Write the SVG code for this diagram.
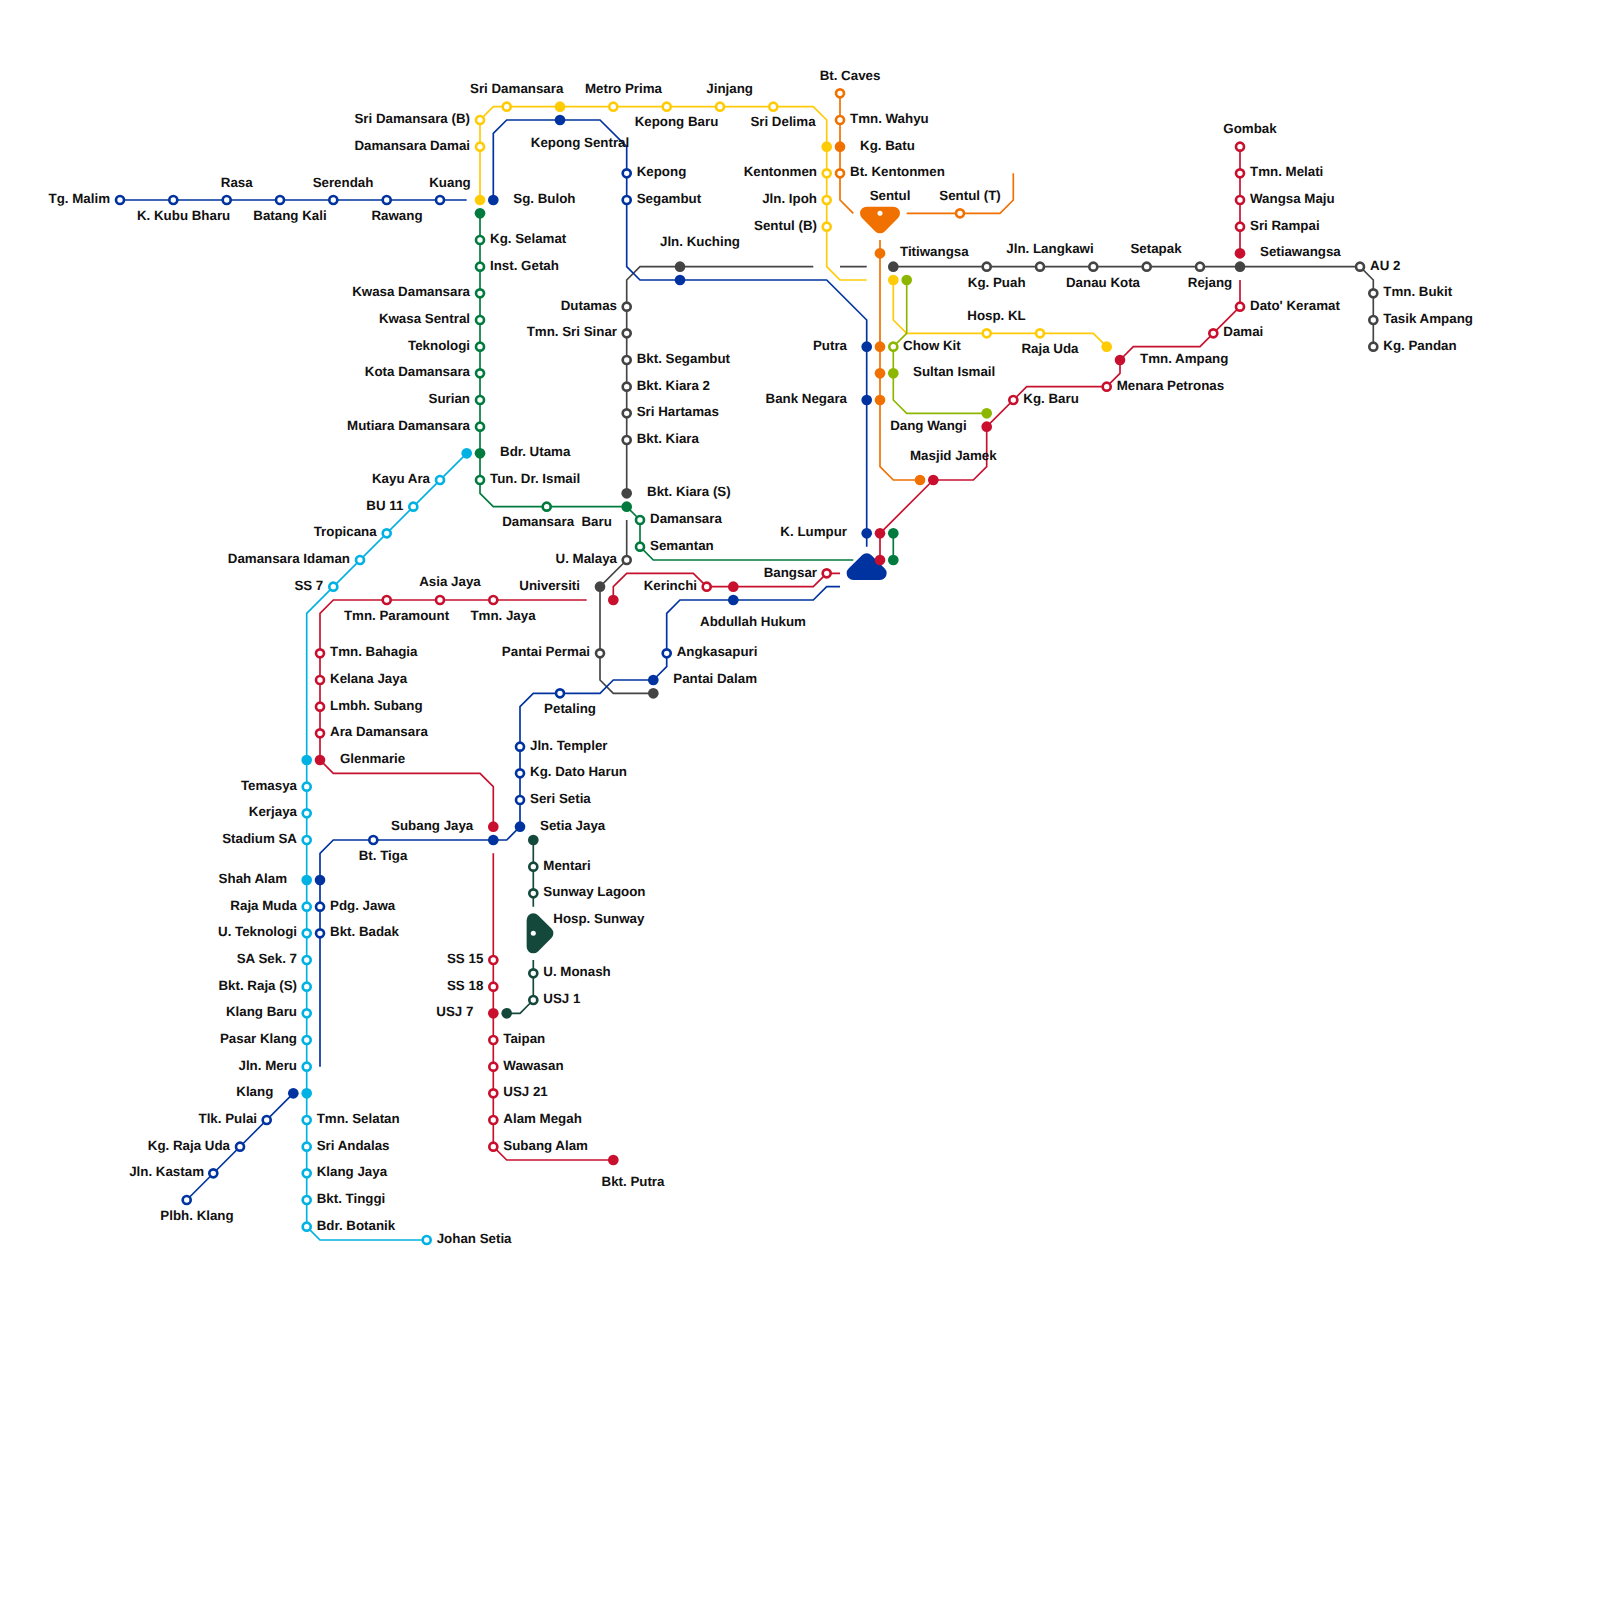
<svg xmlns="http://www.w3.org/2000/svg" width="1600" height="1600" viewBox="0 0 1600 1600">
<style>
text{font-family:"Liberation Sans",Arial,sans-serif;font-size:13.33px;font-weight:700;fill:#111;white-space:pre;text-rendering:geometricPrecision}
.e{text-anchor:end}.m{text-anchor:middle}
#connectors path{fill:none;stroke-width:1.67;stroke-linejoin:miter}
circle{stroke-width:2.67}
.h{fill:#fff;r:4px}.f{r:5.33px}
.dot{fill:#fff;stroke:none;r:2.5px}
.o{stroke:#F07000;fill:#F07000}.y{stroke:#FFCB05;fill:#FFCB05}.l{stroke:#8DB600;fill:#8DB600}.b{stroke:#0033A0;fill:#0033A0}.r{stroke:#C8102E;fill:#C8102E}.g{stroke:#007A3D;fill:#007A3D}.d{stroke:#14483A;fill:#14483A}.c{stroke:#00B2E3;fill:#00B2E3}.k{stroke:#444;fill:#444}
circle.h{fill:#fff}
circle.f{stroke:none}
polygon{stroke-width:13.33;stroke-linejoin:round}
</style>
<rect width="1600" height="1600" fill="#fff"/>
<g id="connectors">
<path class="o" d="M840 93.3V200L853.3 213.3M906.7 213.3H1000L1013.3 200V173.3M880 240V466.7L893.3 480H920"/>
<path class="k" d="M893.3 266.7H1360L1373.3 280V346.7M866.7 266.7H840M813.3 266.7H640L626.7 280V493.3M626.7 520V560L600 586.7V680L613.3 693.3H653.3"/>
<path class="y" d="M480 200V120L493.3 106.7H813.3L826.7 120V266.7L840 280H866.7M893.3 280V320L906.7 333.3H1093.3L1106.7 346.7"/>
<path class="l" d="M906.7 280V333.3L893.3 346.7V400L906.7 413.3H986.7"/>
<path class="b" d="M120 200H466.7M493.3 200V133.3L506.7 120H600L626.7 146.7V266.7L640 280H826.7L866.7 320V546.7M520 826.7L506.7 840H333.3L320 853.3V1066.7M520 826.7V706.7L533.3 693.3H600L613.3 680H653.3L666.7 666.7V613.3L680 600H813.3L826.7 586.7H840M293.3 1093.3L186.7 1200"/>
<path class="r" d="M586.7 600H333.3L320 613.3V760L333.3 773.3H480L493.3 786.7V826.7M493.3 853.3V1146.7L506.7 1160H613.3M613.3 600V586.7L626.7 573.3H693.3L706.7 586.7H813.3L826.7 573.3H840M1240 146.7V253.3M1240 280V306.7L1200 346.7H1133.3L1120 360V373.3L1106.7 386.7H1026.7L986.7 426.7V466.7L973.3 480H933.3L880 533.3V560"/>
<path class="g" d="M480 213.3V493.3L493.3 506.7H626.7L640 520V546.7L653.3 560H853.3M893.3 533.3V560"/>
<path class="c" d="M466.7 453.3L306.7 613.3V1226.7L320 1240H426.7"/>
<path class="d" d="M533.3 840V906.7M533.3 960V1000L520 1013.3H506.7"/>
</g>
<g id="icons">
<g id="hub-sentul"><polygon class="o" points="866.7,213.3 893.3,213.3 880,226.7"/><circle class="dot" cx="880" cy="213.3"/><text class="m" x="890" y="200">Sentul</text></g>
<g id="hub-kl"><polygon class="b" points="853.3,573.3 880,573.3 866.7,560"/></g>
<g id="hub-sunway"><polygon class="d" points="533.3,920 533.3,946.7 546.7,933.3"/><circle class="dot" cx="533.3" cy="933.3"/><text x="553.3" y="923">Hosp. Sunway</text></g>
</g>
<g id="stations">
<g id="s1"><circle class="o h" cx="840" cy="93.3"/><text class="m" x="850" y="80">Bt. Caves</text></g>
<g id="s2"><circle class="o h" cx="840" cy="120"/><text x="850" y="123">Tmn. Wahyu</text></g>
<g id="s3"><circle class="o f" cx="840" cy="146.7"/><text x="860" y="150">Kg. Batu</text></g>
<g id="s4"><circle class="o h" cx="840" cy="173.3"/><text x="850" y="176.3">Bt. Kentonmen</text></g>
<g id="s5"><circle class="o h" cx="960" cy="213.3"/><text class="m" x="970" y="200">Sentul (T)</text></g>
<g id="s6"><circle class="o f" cx="880" cy="253.3"/></g>
<g id="s7"><circle class="o f" cx="880" cy="346.7"/></g>
<g id="s8"><circle class="o f" cx="880" cy="373.3"/></g>
<g id="s9"><circle class="o f" cx="880" cy="400"/></g>
<g id="s10"><circle class="o f" cx="920" cy="480"/></g>
<g id="s11"><circle class="k f" cx="893.3" cy="266.7"/><text x="900" y="256">Titiwangsa</text></g>
<g id="s12"><circle class="k h" cx="986.7" cy="266.7"/><text class="m" x="996.7" y="286.7">Kg. Puah</text></g>
<g id="s13"><circle class="k h" cx="1040" cy="266.7"/><text class="m" x="1050" y="253">Jln. Langkawi</text></g>
<g id="s14"><circle class="k h" cx="1093.3" cy="266.7"/><text class="m" x="1103" y="286.7">Danau Kota</text></g>
<g id="s15"><circle class="k h" cx="1146.7" cy="266.7"/><text class="m" x="1156" y="253">Setapak</text></g>
<g id="s16"><circle class="k h" cx="1200" cy="266.7"/><text class="m" x="1210" y="286.7">Rejang</text></g>
<g id="s17"><circle class="k f" cx="1240" cy="266.7"/><text x="1260" y="256">Setiawangsa</text></g>
<g id="s18"><circle class="k h" cx="1360" cy="266.7"/><text x="1370" y="270">AU 2</text></g>
<g id="s19"><circle class="k h" cx="1373.3" cy="293.3"/><text x="1383.3" y="296.3">Tmn. Bukit</text></g>
<g id="s20"><circle class="k h" cx="1373.3" cy="320"/><text x="1383.3" y="323">Tasik Ampang</text></g>
<g id="s21"><circle class="k h" cx="1373.3" cy="346.7"/><text x="1383.3" y="350">Kg. Pandan</text></g>
<g id="s22"><circle class="k f" cx="680" cy="266.7"/><text class="m" x="700" y="246">Jln. Kuching</text></g>
<g id="s23"><circle class="k h" cx="626.7" cy="306.7"/><text class="e" x="617" y="310">Dutamas</text></g>
<g id="s24"><circle class="k h" cx="626.7" cy="333.3"/><text class="e" x="617" y="336.3">Tmn. Sri Sinar</text></g>
<g id="s25"><circle class="k h" cx="626.7" cy="360"/><text x="636.7" y="363">Bkt. Segambut</text></g>
<g id="s26"><circle class="k h" cx="626.7" cy="386.7"/><text x="636.7" y="390">Bkt. Kiara 2</text></g>
<g id="s27"><circle class="k h" cx="626.7" cy="413.3"/><text x="636.7" y="416.3">Sri Hartamas</text></g>
<g id="s28"><circle class="k h" cx="626.7" cy="440"/><text x="636.7" y="443">Bkt. Kiara</text></g>
<g id="s29"><circle class="k f" cx="626.7" cy="493.3"/><text x="647" y="496">Bkt. Kiara (S)</text></g>
<g id="s30"><circle class="k h" cx="626.7" cy="560"/><text class="e" x="617" y="563">U. Malaya</text></g>
<g id="s31"><circle class="k f" cx="600" cy="586.7"/><text class="e" x="580" y="590">Universiti</text></g>
<g id="s32"><circle class="k h" cx="600" cy="653.3"/><text class="e" x="590" y="656.3">Pantai Permai</text></g>
<g id="s33"><circle class="k f" cx="653.3" cy="693.3"/></g>
<g id="s34"><circle class="y h" cx="480" cy="120"/><text class="e" x="470" y="123">Sri Damansara (B)</text></g>
<g id="s35"><circle class="y h" cx="480" cy="146.7"/><text class="e" x="470" y="150">Damansara Damai</text></g>
<g id="s36"><circle class="y f" cx="480" cy="200"/><text class="e" x="470.7" y="187">Kuang</text></g>
<g id="s37"><circle class="y h" cx="506.7" cy="106.7"/><text class="m" x="516.7" y="93">Sri Damansara</text></g>
<g id="s38"><circle class="y f" cx="560" cy="106.7"/></g>
<g id="s39"><circle class="y h" cx="613.3" cy="106.7"/><text class="m" x="623.5" y="93">Metro Prima</text></g>
<g id="s40"><circle class="y h" cx="666.7" cy="106.7"/><text class="m" x="676.5" y="126">Kepong Baru</text></g>
<g id="s41"><circle class="y h" cx="720" cy="106.7"/><text class="m" x="729.6" y="93">Jinjang</text></g>
<g id="s42"><circle class="y h" cx="773.3" cy="106.7"/><text class="m" x="783" y="126">Sri Delima</text></g>
<g id="s43"><circle class="y f" cx="826.7" cy="146.7"/></g>
<g id="s44"><circle class="y h" cx="826.7" cy="173.3"/><text class="e" x="817" y="176.3">Kentonmen</text></g>
<g id="s45"><circle class="y h" cx="826.7" cy="200"/><text class="e" x="817" y="203">Jln. Ipoh</text></g>
<g id="s46"><circle class="y h" cx="826.7" cy="226.7"/><text class="e" x="817" y="230">Sentul (B)</text></g>
<g id="s47"><circle class="y f" cx="893.3" cy="280"/></g>
<g id="s48"><circle class="y h" cx="986.7" cy="333.3"/><text class="m" x="996.5" y="320">Hosp. KL</text></g>
<g id="s49"><circle class="y h" cx="1040" cy="333.3"/><text class="m" x="1050" y="353">Raja Uda</text></g>
<g id="s50"><circle class="y f" cx="1106.7" cy="346.7"/></g>
<g id="s51"><circle class="l f" cx="906.7" cy="280"/></g>
<g id="s52"><circle class="l h" cx="893.3" cy="346.7"/><text x="903" y="350">Chow Kit</text></g>
<g id="s53"><circle class="l f" cx="893.3" cy="373.3"/><text x="913" y="376">Sultan Ismail</text></g>
<g id="s54"><circle class="l f" cx="986.7" cy="413.3"/><text class="e" x="966.7" y="430">Dang Wangi</text></g>
<g id="s55"><circle class="b h" cx="120" cy="200"/><text class="e" x="110" y="203">Tg. Malim</text></g>
<g id="s56"><circle class="b h" cx="173.3" cy="200"/><text class="m" x="183.6" y="220">K. Kubu Bharu</text></g>
<g id="s57"><circle class="b h" cx="226.7" cy="200"/><text class="m" x="236.7" y="187">Rasa</text></g>
<g id="s58"><circle class="b h" cx="280" cy="200"/><text class="m" x="290" y="220">Batang Kali</text></g>
<g id="s59"><circle class="b h" cx="333.3" cy="200"/><text class="m" x="343" y="187">Serendah</text></g>
<g id="s60"><circle class="b h" cx="386.7" cy="200"/><text class="m" x="397" y="220">Rawang</text></g>
<g id="s61"><circle class="b h" cx="440" cy="200"/></g>
<g id="s62"><circle class="b f" cx="493.3" cy="200"/><text x="513.3" y="203">Sg. Buloh</text></g>
<g id="s63"><circle class="b f" cx="560" cy="120"/><text class="m" x="580" y="146.7">Kepong Sentral</text></g>
<g id="s64"><circle class="b h" cx="626.7" cy="173.3"/><text x="636.7" y="176.3">Kepong</text></g>
<g id="s65"><circle class="b h" cx="626.7" cy="200"/><text x="636.7" y="203">Segambut</text></g>
<g id="s66"><circle class="b f" cx="680" cy="280"/></g>
<g id="s67"><circle class="b f" cx="866.7" cy="346.7"/><text class="e" x="847" y="350">Putra</text></g>
<g id="s68"><circle class="b f" cx="866.7" cy="400"/><text class="e" x="847" y="403">Bank Negara</text></g>
<g id="s69"><circle class="b f" cx="866.7" cy="533.3"/><text class="e" x="847" y="536.3">K. Lumpur</text></g>
<g id="s70"><circle class="b f" cx="520" cy="826.7"/><text x="540" y="830">Setia Jaya</text></g>
<g id="s71"><circle class="b f" cx="493.3" cy="840"/></g>
<g id="s72"><circle class="b h" cx="373.3" cy="840"/><text class="m" x="383" y="860">Bt. Tiga</text></g>
<g id="s73"><circle class="b f" cx="320" cy="880"/></g>
<g id="s74"><circle class="b h" cx="320" cy="906.7"/><text x="330" y="910">Pdg. Jawa</text></g>
<g id="s75"><circle class="b h" cx="320" cy="933.3"/><text x="330" y="936.3">Bkt. Badak</text></g>
<g id="s76"><circle class="b h" cx="520" cy="800"/><text x="530" y="803">Seri Setia</text></g>
<g id="s77"><circle class="b h" cx="520" cy="773.3"/><text x="530" y="776.3">Kg. Dato Harun</text></g>
<g id="s78"><circle class="b h" cx="520" cy="746.7"/><text x="530" y="750">Jln. Templer</text></g>
<g id="s79"><circle class="b h" cx="560" cy="693.3"/><text class="m" x="570" y="713">Petaling</text></g>
<g id="s80"><circle class="b f" cx="653.3" cy="680"/><text x="673.3" y="683">Pantai Dalam</text></g>
<g id="s81"><circle class="b h" cx="666.7" cy="653.3"/><text x="676.7" y="656.3">Angkasapuri</text></g>
<g id="s82"><circle class="b f" cx="733.3" cy="600"/><text class="m" x="753" y="626">Abdullah Hukum</text></g>
<g id="s83"><circle class="b f" cx="293.3" cy="1093.3"/><text class="e" x="273.3" y="1096.3">Klang</text></g>
<g id="s84"><circle class="b h" cx="266.7" cy="1120"/><text class="e" x="257" y="1123">Tlk. Pulai</text></g>
<g id="s85"><circle class="b h" cx="240" cy="1146.7"/><text class="e" x="230" y="1150">Kg. Raja Uda</text></g>
<g id="s86"><circle class="b h" cx="213.3" cy="1173.3"/><text class="e" x="204" y="1176.3">Jln. Kastam</text></g>
<g id="s87"><circle class="b h" cx="186.7" cy="1200"/><text class="m" x="197" y="1220">Plbh. Klang</text></g>
<g id="s88"><circle class="r h" cx="493.3" cy="600"/><text class="m" x="503" y="620">Tmn. Jaya</text></g>
<g id="s89"><circle class="r h" cx="440" cy="600"/><text class="m" x="450" y="586">Asia Jaya</text></g>
<g id="s90"><circle class="r h" cx="386.7" cy="600"/><text class="m" x="396.5" y="620">Tmn. Paramount</text></g>
<g id="s91"><circle class="r h" cx="320" cy="653.3"/><text x="330" y="656.3">Tmn. Bahagia</text></g>
<g id="s92"><circle class="r h" cx="320" cy="680"/><text x="330" y="683">Kelana Jaya</text></g>
<g id="s93"><circle class="r h" cx="320" cy="706.7"/><text x="330" y="710">Lmbh. Subang</text></g>
<g id="s94"><circle class="r h" cx="320" cy="733.3"/><text x="330" y="736.3">Ara Damansara</text></g>
<g id="s95"><circle class="r f" cx="320" cy="760"/><text x="340" y="763">Glenmarie</text></g>
<g id="s96"><circle class="r f" cx="493.3" cy="826.7"/><text class="e" x="473.3" y="830">Subang Jaya</text></g>
<g id="s97"><circle class="r h" cx="493.3" cy="960"/><text class="e" x="483.3" y="963">SS 15</text></g>
<g id="s98"><circle class="r h" cx="493.3" cy="986.7"/><text class="e" x="483.3" y="990">SS 18</text></g>
<g id="s99"><circle class="r f" cx="493.3" cy="1013.3"/><text class="e" x="473.3" y="1016.3">USJ 7</text></g>
<g id="s100"><circle class="r h" cx="493.3" cy="1040"/><text x="503.3" y="1043">Taipan</text></g>
<g id="s101"><circle class="r h" cx="493.3" cy="1066.7"/><text x="503.3" y="1070">Wawasan</text></g>
<g id="s102"><circle class="r h" cx="493.3" cy="1093.3"/><text x="503.3" y="1096.3">USJ 21</text></g>
<g id="s103"><circle class="r h" cx="493.3" cy="1120"/><text x="503.3" y="1123">Alam Megah</text></g>
<g id="s104"><circle class="r h" cx="493.3" cy="1146.7"/><text x="503.3" y="1150">Subang Alam</text></g>
<g id="s105"><circle class="r f" cx="613.3" cy="1160"/><text class="m" x="633" y="1186">Bkt. Putra</text></g>
<g id="s106"><circle class="r f" cx="613.3" cy="600"/></g>
<g id="s107"><circle class="r h" cx="706.7" cy="586.7"/><text class="e" x="697" y="590">Kerinchi</text></g>
<g id="s108"><circle class="r f" cx="733.3" cy="586.7"/></g>
<g id="s109"><circle class="r h" cx="826.7" cy="573.3"/><text class="e" x="817" y="576.5">Bangsar</text></g>
<g id="s110"><circle class="r h" cx="1240" cy="146.7"/><text class="m" x="1250" y="133">Gombak</text></g>
<g id="s111"><circle class="r h" cx="1240" cy="173.3"/><text x="1250" y="176.3">Tmn. Melati</text></g>
<g id="s112"><circle class="r h" cx="1240" cy="200"/><text x="1250" y="203">Wangsa Maju</text></g>
<g id="s113"><circle class="r h" cx="1240" cy="226.7"/><text x="1250" y="230">Sri Rampai</text></g>
<g id="s114"><circle class="r f" cx="1240" cy="253.3"/></g>
<g id="s115"><circle class="r h" cx="1240" cy="306.7"/><text x="1250" y="310">Dato' Keramat</text></g>
<g id="s116"><circle class="r h" cx="1213.3" cy="333.3"/><text x="1223.3" y="336.3">Damai</text></g>
<g id="s117"><circle class="r f" cx="1120" cy="360"/><text x="1140" y="363">Tmn. Ampang</text></g>
<g id="s118"><circle class="r h" cx="1106.7" cy="386.7"/><text x="1116.7" y="390">Menara Petronas</text></g>
<g id="s119"><circle class="r h" cx="1013.3" cy="400"/><text x="1023.3" y="403">Kg. Baru</text></g>
<g id="s120"><circle class="r f" cx="986.7" cy="426.7"/></g>
<g id="s121"><circle class="r f" cx="933.3" cy="480"/><text x="910" y="460">Masjid Jamek</text></g>
<g id="s122"><circle class="r f" cx="880" cy="533.3"/></g>
<g id="s123"><circle class="r f" cx="880" cy="560"/></g>
<g id="s124"><circle class="g f" cx="480" cy="213.3"/></g>
<g id="s125"><circle class="g h" cx="480" cy="240"/><text x="490" y="243">Kg. Selamat</text></g>
<g id="s126"><circle class="g h" cx="480" cy="266.7"/><text x="490" y="270">Inst. Getah</text></g>
<g id="s127"><circle class="g h" cx="480" cy="293.3"/><text class="e" x="470" y="296.3">Kwasa Damansara</text></g>
<g id="s128"><circle class="g h" cx="480" cy="320"/><text class="e" x="470" y="323">Kwasa Sentral</text></g>
<g id="s129"><circle class="g h" cx="480" cy="346.7"/><text class="e" x="470" y="350">Teknologi</text></g>
<g id="s130"><circle class="g h" cx="480" cy="373.3"/><text class="e" x="470" y="376.3">Kota Damansara</text></g>
<g id="s131"><circle class="g h" cx="480" cy="400"/><text class="e" x="470" y="403">Surian</text></g>
<g id="s132"><circle class="g h" cx="480" cy="426.7"/><text class="e" x="470" y="430">Mutiara Damansara</text></g>
<g id="s133"><circle class="g f" cx="480" cy="453.3"/><text x="500" y="456">Bdr. Utama</text></g>
<g id="s134"><circle class="g h" cx="480" cy="480"/><text x="490" y="483">Tun. Dr. Ismail</text></g>
<g id="s135"><circle class="g h" cx="546.7" cy="506.7"/><text class="m" x="557" y="526">Damansara  Baru</text></g>
<g id="s136"><circle class="g f" cx="626.7" cy="506.7"/></g>
<g id="s137"><circle class="g h" cx="640" cy="520"/><text x="650" y="523">Damansara</text></g>
<g id="s138"><circle class="g h" cx="640" cy="546.7"/><text x="650" y="550">Semantan</text></g>
<g id="s139"><circle class="g f" cx="893.3" cy="533.3"/></g>
<g id="s140"><circle class="g f" cx="893.3" cy="560"/></g>
<g id="s141"><circle class="c f" cx="466.7" cy="453.3"/></g>
<g id="s142"><circle class="c h" cx="440" cy="480"/><text class="e" x="430" y="483">Kayu Ara</text></g>
<g id="s143"><circle class="c h" cx="413.3" cy="506.7"/><text class="e" x="403.3" y="510">BU 11</text></g>
<g id="s144"><circle class="c h" cx="386.7" cy="533.3"/><text class="e" x="376.7" y="536.3">Tropicana</text></g>
<g id="s145"><circle class="c h" cx="360" cy="560"/><text class="e" x="350" y="563">Damansara Idaman</text></g>
<g id="s146"><circle class="c h" cx="333.3" cy="586.7"/><text class="e" x="323.3" y="590">SS 7</text></g>
<g id="s147"><circle class="c f" cx="306.7" cy="760"/></g>
<g id="s148"><circle class="c h" cx="306.7" cy="786.7"/><text class="e" x="297" y="790">Temasya</text></g>
<g id="s149"><circle class="c h" cx="306.7" cy="813.3"/><text class="e" x="297" y="816.3">Kerjaya</text></g>
<g id="s150"><circle class="c h" cx="306.7" cy="840"/><text class="e" x="297" y="843">Stadium SA</text></g>
<g id="s151"><circle class="c f" cx="306.7" cy="880"/><text class="e" x="287" y="883">Shah Alam</text></g>
<g id="s152"><circle class="c h" cx="306.7" cy="906.7"/><text class="e" x="297" y="910">Raja Muda</text></g>
<g id="s153"><circle class="c h" cx="306.7" cy="933.3"/><text class="e" x="297" y="936.3">U. Teknologi</text></g>
<g id="s154"><circle class="c h" cx="306.7" cy="960"/><text class="e" x="297" y="963">SA Sek. 7</text></g>
<g id="s155"><circle class="c h" cx="306.7" cy="986.7"/><text class="e" x="297" y="990">Bkt. Raja (S)</text></g>
<g id="s156"><circle class="c h" cx="306.7" cy="1013.3"/><text class="e" x="297" y="1016.3">Klang Baru</text></g>
<g id="s157"><circle class="c h" cx="306.7" cy="1040"/><text class="e" x="297" y="1043">Pasar Klang</text></g>
<g id="s158"><circle class="c h" cx="306.7" cy="1066.7"/><text class="e" x="297" y="1070">Jln. Meru</text></g>
<g id="s159"><circle class="c f" cx="306.7" cy="1093.3"/></g>
<g id="s160"><circle class="c h" cx="306.7" cy="1120"/><text x="316.7" y="1123">Tmn. Selatan</text></g>
<g id="s161"><circle class="c h" cx="306.7" cy="1146.7"/><text x="316.7" y="1150">Sri Andalas</text></g>
<g id="s162"><circle class="c h" cx="306.7" cy="1173.3"/><text x="316.7" y="1176.3">Klang Jaya</text></g>
<g id="s163"><circle class="c h" cx="306.7" cy="1200"/><text x="316.7" y="1203">Bkt. Tinggi</text></g>
<g id="s164"><circle class="c h" cx="306.7" cy="1226.7"/><text x="316.7" y="1230">Bdr. Botanik</text></g>
<g id="s165"><circle class="c h" cx="426.7" cy="1240"/><text x="436.7" y="1243">Johan Setia</text></g>
<g id="s166"><circle class="d f" cx="533.3" cy="840"/></g>
<g id="s167"><circle class="d h" cx="533.3" cy="866.7"/><text x="543.3" y="870">Mentari</text></g>
<g id="s168"><circle class="d h" cx="533.3" cy="893.3"/><text x="543.3" y="896.3">Sunway Lagoon</text></g>
<g id="s169"><circle class="d h" cx="533.3" cy="973.3"/><text x="543.3" y="976.3">U. Monash</text></g>
<g id="s170"><circle class="d h" cx="533.3" cy="1000"/><text x="543.3" y="1003">USJ 1</text></g>
<g id="s171"><circle class="d f" cx="506.7" cy="1013.3"/></g>
</g>
</svg>
